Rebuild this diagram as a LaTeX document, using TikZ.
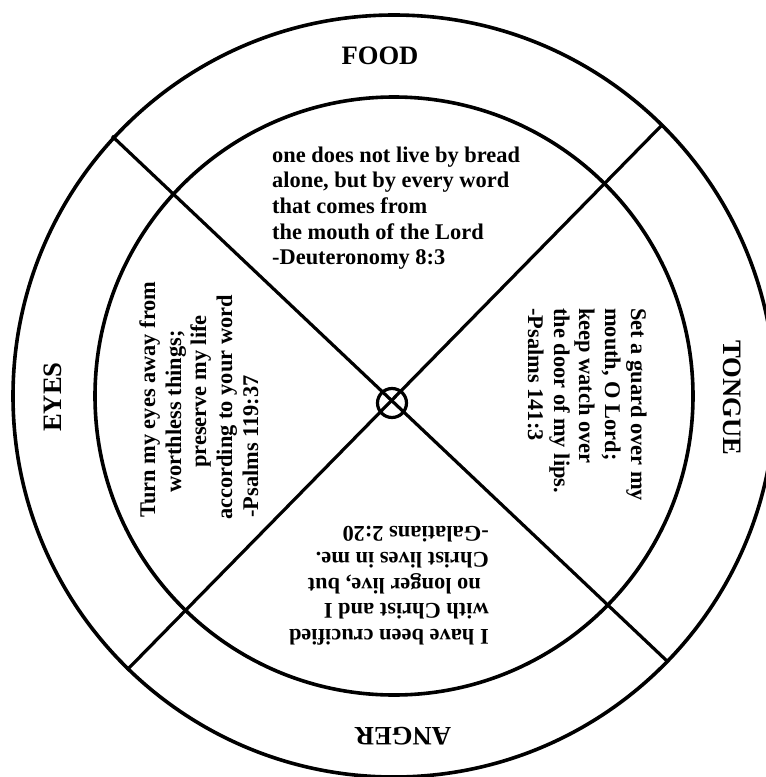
\documentclass[tikz,border=0pt]{standalone}
\usepackage{fontspec}
\setmainfont{Liberation Serif}
\begin{document}
\begin{tikzpicture}[x=1pt,y=-1pt,
  ring/.style={line width=3.6pt},
  spoke/.style={line width=3.2pt},
  verse/.style={font=\fontsize{22.4}{25.7}\selectfont\bfseries, inner sep=0pt, anchor=base west},
  title/.style={font=\fontsize{26.6}{30}\selectfont\bfseries, inner sep=0pt, anchor=base}]
\useasboundingbox (0,0) rectangle (766,777);
\fill[white] (0,0) rectangle (766,777);
\coordinate (O) at (394,396);
\draw[ring] (O) circle[radius=381];
\draw[ring] (O) circle[radius=299];
\coordinate (A) at (112,136);
\coordinate (B) at (667,661);
\coordinate (C) at (662,125);
\coordinate (D) at (127,670);
\draw[spoke] (A) -- (B);
\draw[spoke] (C) -- (D);
\node[draw, circle, line width=3.2pt, minimum size=29pt, inner sep=0pt] (hub) at (392,403) {};
% titles
\node[title] (food) at (380,64) {FOOD};
\node[title, rotate=180] (anger) at (403,727) {ANGER};
\node[title, rotate=90] (eyes) at (61,397) {EYES};
\node[title, rotate=-90] (tongue) at (723,398) {TONGUE};
% top verse
\node[verse] (t1) at (272,162) {one does not live by bread};
\node[verse] (t2) at (272,187.7) {alone, but by every word};
\node[verse] (t3) at (272,213.4) {that comes from};
\node[verse] (t4) at (272,239.1) {the mouth of the Lord};
\node[verse] (t5) at (272,264.8) {-Deuteronomy 8:3};
% right verse
\node[verse, rotate=-90] (r1) at (631,308) {Set a guard over my};
\node[verse, rotate=-90] (r2) at (605,308) {mouth, O Lord;};
\node[verse, rotate=-90] (r3) at (579,308) {keep watch over};
\node[verse, rotate=-90] (r4) at (554,308) {the door of my lips.};
\node[verse, rotate=-90] (r5) at (528,308) {-Psalms 141:3};
% bottom verse
\node[verse, rotate=180] (b1) at (489,629) {I have been crucified};
\node[verse, rotate=180] (b2) at (489,603) {with Christ and I};
\node[verse, rotate=180] (b3) at (481,578) {no longer live, but};
\node[verse, rotate=180] (b4) at (489,552) {Christ lives in me.};
\node[verse, rotate=180] (b5) at (489,526) {-Galatians 2:20};
% left verse
\node[verse, rotate=90] (l1) at (155,518) {Turn my eyes away from};
\node[verse, rotate=90] (l2) at (181,493) {worthless things;};
\node[verse, rotate=90] (l3) at (206,468) {preserve my life};
\node[verse, rotate=90] (l4) at (232,520) {according to your word};
\node[verse, rotate=90] (l5) at (258,518) {-Psalms 119:37};
\end{tikzpicture}
\end{document}
